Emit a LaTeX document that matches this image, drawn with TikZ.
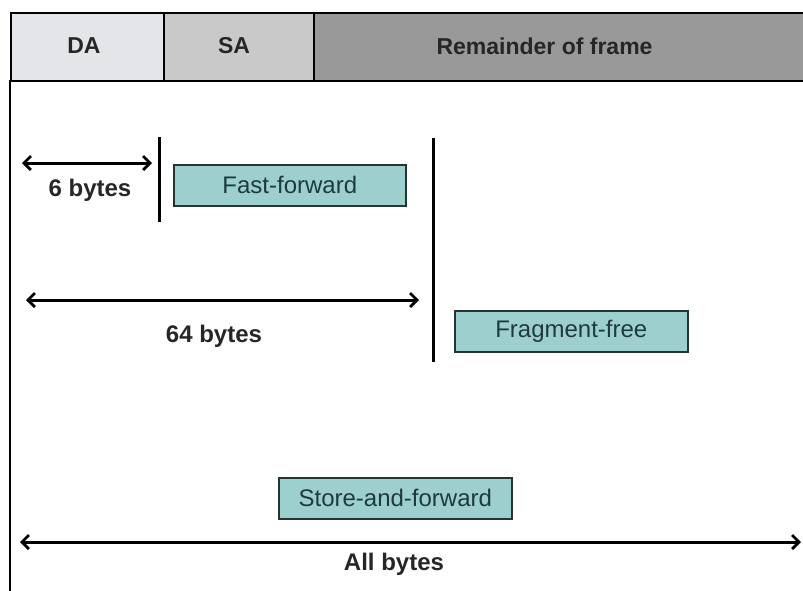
\documentclass[tikz,border=0pt]{standalone}
\usepackage{fontspec}
\setmainfont{Liberation Sans}
\usetikzlibrary{arrows.meta}
\definecolor{daF}{HTML}{E4E5E9}
\definecolor{saF}{HTML}{C9C9C9}
\definecolor{remF}{HTML}{999999}
\definecolor{tealF}{HTML}{9ECFCF}
\definecolor{tealT}{HTML}{1E3B3B}
\definecolor{edgeC}{HTML}{263333}
\tikzset{
  cell/.style={draw=black, line width=1.6pt, inner sep=0pt, anchor=north west},
  hdr/.style={font=\fontsize{23}{26}\selectfont\bfseries, text=black!85},
  mode/.style={draw=edgeC, line width=1.6pt, fill=tealF, inner sep=0pt, anchor=north west},
  modetxt/.style={font=\fontsize{24}{28}\selectfont, text=tealT},
  bar/.style={line width=3pt, black},
  span/.style={line width=3pt, black, {Straight Barb[length=7pt,width=14pt,line width=2.8pt]}-{Straight Barb[length=7pt,width=14pt,line width=2.8pt]}},
  lbl/.style={font=\fontsize{24}{28}\selectfont\bfseries, text=black!85}
}
\begin{document}
\begin{tikzpicture}[x=1pt,y=-1pt]
\useasboundingbox (0,0) rectangle (803,590);
\fill[white] (0,0) rectangle (803,590);
% header cells
\node[cell, fill=daF, minimum width=153pt, minimum height=68pt] (da) at (10,12) {};
\node[cell, fill=saF, minimum width=150pt, minimum height=68pt] (sa) at (163,12) {};
\node[cell, fill=remF, minimum width=500pt, minimum height=68pt] (rem) at (313,12) {};
\node[hdr] (daT) at (84,46) {DA};
\node[hdr] (saT) at (234,46) {SA};
\node[hdr, anchor=west] (remT) at (433,46) {Remainder of frame};
% left frame line
\coordinate (fl1) at (10,80);
\coordinate (fl2) at (10,592);
\draw[line width=1.6pt] (fl1) -- (fl2);
% vertical markers
\coordinate (v1a) at (159,137);
\coordinate (v1b) at (159,222);
\coordinate (v2a) at (433,138);
\coordinate (v2b) at (433,362);
\draw[bar] (v1a) -- (v1b);
\draw[bar] (v2a) -- (v2b);
% mode boxes
\node[mode, minimum width=232pt, minimum height=41pt] (ff) at (173,164) {};
\node[modetxt] (ffT) at (ff.center) {Fast-forward};
\node[mode, minimum width=233pt, minimum height=41pt] (fr) at (454,310) {};
\node[modetxt] (frT) at (fr.center) {Fragment-free};
\node[mode, minimum width=233pt, minimum height=41pt] (sf) at (278,477) {};
\node[modetxt] (sfT) at (sf.center) {Store-and-forward};
% spans
\coordinate (a1) at (22,163);
\coordinate (a2) at (152,163);
\draw[span] (a1) -- (a2);
\node[lbl] (l6) at (90,190) {6 bytes};
\coordinate (b1) at (26,300);
\coordinate (b2) at (419,300);
\draw[span] (b1) -- (b2);
\node[lbl] (l64) at (214,336) {64 bytes};
\coordinate (c1) at (20,542);
\coordinate (c2) at (801,542);
\draw[span] (c1) -- (c2);
\node[lbl] (lall) at (394,564) {All bytes};
\end{tikzpicture}
\end{document}
